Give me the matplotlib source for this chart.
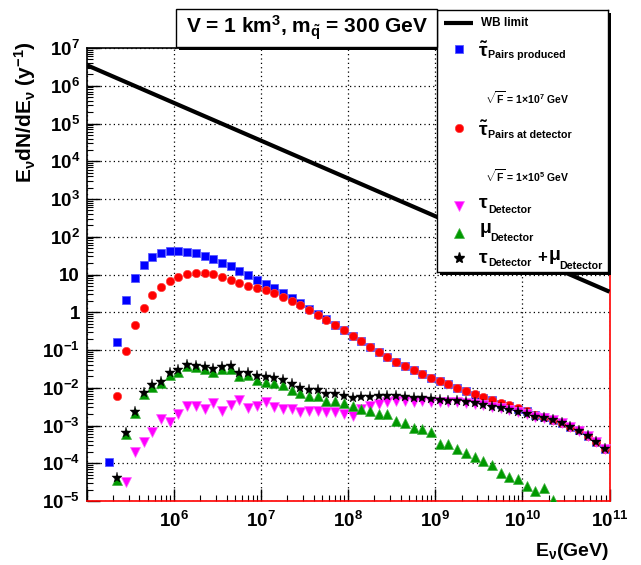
import numpy as np
import matplotlib
matplotlib.use('Agg')
import matplotlib.pyplot as plt
from matplotlib.patches import Rectangle
from matplotlib.ticker import LogLocator, FuncFormatter, NullFormatter

plt.rcParams['font.family'] = ['Liberation Sans', 'DejaVu Sans']
plt.rcParams['font.weight'] = 'bold'
plt.rcParams['mathtext.fontset'] = 'custom'
plt.rcParams['mathtext.rm'] = 'Liberation Sans:bold'
plt.rcParams['mathtext.it'] = 'Liberation Sans:bold'
plt.rcParams['mathtext.bf'] = 'Liberation Sans:bold'
plt.rcParams['mathtext.sf'] = 'Liberation Sans:bold'

# log10(E/GeV) bin centres
log_e = [5.25, 5.35, 5.45, 5.55, 5.65, 5.75, 5.85, 5.95, 6.05, 6.15,
         6.25, 6.35, 6.45, 6.55, 6.65, 6.75, 6.85, 6.95, 7.05, 7.15,
         7.25, 7.35, 7.45, 7.55, 7.65, 7.75, 7.85, 7.95, 8.05, 8.15,
         8.25, 8.35, 8.45, 8.55, 8.65, 8.75, 8.85, 8.95, 9.05, 9.15,
         9.25, 9.35, 9.45, 9.55, 9.65, 9.75, 9.85, 9.95, 10.05, 10.15,
         10.25, 10.35, 10.45, 10.55, 10.65, 10.75, 10.85, 10.95]

# Waxman-Bahcall bound
wb_energy = [1e5, 1e11]
wb_flux = [3.5e6, 3.5]

# stau pairs produced (sqrt F = 1e7 GeV), from bin 0
pairs_produced = [1.05e-4, 0.16, 2.06, 8.05, 18.2, 28.4, 37.7, 41.7, 42.5, 40.1,
                  36.2, 31.4, 25.6, 20.5, 16.3, 12.5, 9.8, 7.2, 5.7, 4.27,
                  3.21, 2.37, 1.71, 1.24, 0.895, 0.648, 0.459, 0.333, 0.236, 0.171,
                  0.123, 0.089, 0.0656, 0.0494, 0.0379, 0.0297, 0.0233, 0.0186, 0.0152, 0.0122,
                  0.0099, 0.0081, 0.0066, 0.0054, 0.0046, 0.0038, 0.0033, 0.0028, 0.0024, 0.00188,
                  0.00166, 0.00141, 0.00115, 0.00092, 0.00074, 0.00053, 0.000363, 0.000242]

# stau pairs reaching the detector, from bin 1
pairs_detector = [5.9e-3, 0.092, 0.449, 1.32, 2.80, 4.74, 6.84, 8.73, 10.3,
                  11.1, 10.9, 10.1, 8.6, 7.08, 6.02, 5.02, 4.36, 3.86, 3.28,
                  2.57, 2.02, 1.52, 1.14, 0.843, 0.622, 0.45, 0.33, 0.236, 0.170,
                  0.122, 0.089, 0.0655, 0.0493, 0.0378, 0.0297, 0.0233, 0.0186, 0.0152, 0.0122,
                  0.0099, 0.0081, 0.0070, 0.00573, 0.00487, 0.00405, 0.00344, 0.00293, 0.00239, 0.00188,
                  0.00166, 0.00141, 0.00115, 0.00092, 0.00074, 0.00053, 0.000363, 0.000242]

# taus at detector (sqrt F = 1e5 GeV), from bin 2
tau_detector = [3.1e-5, 1.95e-4, 3.65e-4, 6.9e-4, 1.52e-3, 1.24e-3, 2.02e-3, 3.35e-3,
                3.28e-3, 2.73e-3, 3.95e-3, 2.4e-3, 3.54e-3, 4.7e-3, 2.83e-3, 3.2e-3, 4.26e-3, 3.13e-3,
                2.67e-3, 2.78e-3, 2.22e-3, 2.46e-3, 2.36e-3, 2.31e-3, 2.22e-3, 2.05e-3, 1.84e-3, 2.8e-3,
                3.24e-3, 3.82e-3, 4.23e-3, 4.4e-3, 4.49e-3, 4.3e-3, 4.4e-3, 4.3e-3, 4.3e-3, 4.23e-3,
                4.15e-3, 3.96e-3, 3.7e-3, 3.4e-3, 3.0e-3, 2.85e-3, 2.55e-3, 2.27e-3, 2.0e-3, 1.7e-3,
                1.6e-3, 1.38e-3, 1.15e-3, 9.3e-4, 7.3e-4, 5.3e-4, 3.6e-4, 2.4e-4]

# muons at detector, from bin 1
mu_detector = [3.5e-5, 6.0e-4, 2.19e-3, 6.8e-3, 0.0107, 0.0131, 0.0222, 0.0266, 0.0376,
               0.0347, 0.0307, 0.0265, 0.031, 0.0323, 0.0199, 0.022, 0.0162, 0.0141, 0.0132,
               0.0119, 8.8e-3, 7.2e-3, 5.9e-3, 5.9e-3, 4.4e-3, 4.4e-3, 4.0e-3, 3.24e-3, 2.75e-3,
               2.44e-3, 2.03e-3, 1.99e-3, 1.35e-3, 1.15e-3, 8.8e-4, 8.1e-4, 6.6e-4, 3.33e-4, 3.2e-4,
               2.45e-4, 1.92e-4, 1.43e-4, 1.16e-4, 8.9e-5, 5.6e-5, 4.4e-5, 3.9e-5, 2.54e-5, 1.8e-5,
               2.2e-5, 1.05e-5]

# tau + mu at detector, from bin 1
tau_mu_detector = [4.0e-5, 6.45e-4, 2.32e-3, 7.3e-3, 0.0116, 0.0145, 0.025, 0.0295, 0.0408,
                   0.0385, 0.0347, 0.0305, 0.0345, 0.038, 0.0253, 0.0253, 0.0199, 0.019, 0.0183,
                   0.0162, 0.0127, 9.8e-3, 8.5e-3, 8.5e-3, 6.9e-3, 6.8e-3, 6.2e-3, 5.3e-3, 5.6e-3,
                   5.7e-3, 5.97e-3, 6.2e-3, 5.97e-3, 5.7e-3, 5.3e-3, 5.3e-3, 5.07e-3, 4.87e-3, 4.58e-3,
                   4.4e-3, 4.14e-3, 3.9e-3, 3.59e-3, 3.11e-3, 2.93e-3, 2.59e-3, 2.30e-3, 2.0e-3, 1.69e-3,
                   1.6e-3, 1.38e-3, 1.15e-3, 9.2e-4, 7.2e-4, 5.2e-4, 3.56e-4, 2.32e-4]

energy = 10 ** np.array(log_e)

W, H = 641, 565
fig = plt.figure(figsize=(W / 100, H / 100), dpi=100)


def fx(px):
    return px / W


def fy(py):
    return 1 - py / H


ax = fig.add_axes([fx(87), fy(501), fx(609.5) - fx(87), fy(48) - fy(501)])
ax.set_xscale('log')
ax.set_yscale('log')

ax.plot(wb_energy, wb_flux, color='black', lw=3, solid_capstyle='butt', zorder=3)
ax.plot(energy[0:], pairs_produced, 's', color='blue', ms=6, mec='#5a5aff', mew=0.6, zorder=4)
ax.plot(energy[1:], pairs_detector, 'o', color='red', ms=6, mec='#ff4040', mew=0.5, zorder=5)
ax.plot(energy[2:], tau_detector, 'v', color='magenta', ms=7, mec='#ff60ff', mew=0.5, zorder=6)
ax.plot(energy[1:1 + len(mu_detector)], mu_detector, '^', color='#009900', ms=7,
        mec='#40b040', mew=0.5, zorder=7)
ax.plot(energy[1:], tau_mu_detector, '*', color='black', ms=8, mec='black', mew=0.3, zorder=8)

ax.set_xlim(1e5, 1e11)
ax.set_ylim(1e-5, 1e7)

ax.xaxis.set_major_locator(LogLocator(base=10, numticks=20))
ax.yaxis.set_major_locator(LogLocator(base=10, numticks=20))
ax.xaxis.set_minor_locator(LogLocator(base=10, subs=np.arange(2, 10), numticks=20))
ax.yaxis.set_minor_locator(LogLocator(base=10, subs=np.arange(2, 10), numticks=20))
ax.xaxis.set_minor_formatter(NullFormatter())
ax.yaxis.set_minor_formatter(NullFormatter())


def y_fmt(v, pos):
    n = int(round(np.log10(v)))
    if n == 0:
        return '1'
    if n == 1:
        return '10'
    return r'10$^{%d}$' % n


def x_fmt(v, pos):
    n = int(round(np.log10(v)))
    if n <= 5:
        return ''
    return r'10$^{%d}$' % n


ax.yaxis.set_major_formatter(FuncFormatter(y_fmt))
ax.xaxis.set_major_formatter(FuncFormatter(x_fmt))

ax.tick_params(which='both', direction='in', top=False, right=False, labelsize=13.5)
ax.tick_params(which='major', length=9, width=1)
ax.tick_params(which='minor', length=4.5, width=0.8)
ax.tick_params(axis='x', pad=7)
ax.tick_params(axis='y', pad=5)

ax.grid(True, which='major', color='black', linestyle=(0, (1, 2.5)), lw=0.9)

for side in ['left', 'top']:
    ax.spines[side].set_color('black')
    ax.spines[side].set_linewidth(1.2)
for side in ['bottom', 'right']:
    ax.spines[side].set_color('red')
    ax.spines[side].set_linewidth(1.2)

fig.text(fx(25), fy(41), r'E$_{\nu}$dN/dE$_{\nu}$ (y$^{-1}$)', rotation=90,
         ha='center', va='top', fontsize=15)
fig.text(fx(609), fy(551), r'E$_{\nu}$(GeV)', ha='right', va='center', fontsize=14)

# title pave with shadow
fig.patches.append(Rectangle((fx(179), fy(50)), fx(440) - fx(179), fy(12) - fy(50),
                             transform=fig.transFigure, facecolor='black', edgecolor='none', zorder=9))
fig.patches.append(Rectangle((fx(176), fy(47)), fx(437) - fx(176), fy(9) - fy(47),
                             transform=fig.transFigure, facecolor='white', edgecolor='black',
                             lw=1, zorder=10))
fig.text(fx(307), fy(28), r'V = 1 km$^{3}$, m$_{\tilde{q}}$ = 300 GeV', ha='center', va='center',
         fontsize=15, zorder=11)

# legend box with shadow
fig.patches.append(Rectangle((fx(440), fy(275)), fx(611) - fx(440), fy(13) - fy(275),
                             transform=fig.transFigure, facecolor='black', edgecolor='none', zorder=9))
lax = fig.add_axes([fx(437), fy(272), fx(608) - fx(437), fy(10) - fy(272)])
lax.set_zorder(10)
lax.set_xlim(437, 608)
lax.set_ylim(272, 10)
lax.set_xticks([])
lax.set_yticks([])
for s in lax.spines.values():
    s.set_linewidth(1)

MAIN = 14
SUB = 7.7
mx = 459


def entry(pieces):
    # pieces: (x, baseline y, text, fontsize)
    for x, y, s, size in pieces:
        lax.text(x, y, s, ha='left', va='baseline', fontsize=size)


lax.plot([444, 473], [22.7, 22.7], color='black', lw=3, solid_capstyle='butt')
lax.text(481, 26, 'WB limit', va='baseline', fontsize=8.5)

lax.plot([mx], [49], 's', color='blue', ms=6, mec='#5a5aff', mew=0.6)
entry([(478, 57, r'$\tilde{\tau}$', MAIN), (488, 58, 'Pairs produced', SUB)])

lax.text(485, 104, r'$\sqrt{F}$ = 1$\times$10$^{7}$ GeV', va='baseline', fontsize=7.5)

lax.plot([mx], [128], 'o', color='red', ms=6, mec='#ff4040', mew=0.5)
entry([(478, 136, r'$\tilde{\tau}$', MAIN), (488, 138, 'Pairs at detector', SUB)])

lax.text(485, 182, r'$\sqrt{F}$ = 1$\times$10$^{5}$ GeV', va='baseline', fontsize=7.5)

lax.plot([mx], [206], 'v', color='magenta', ms=7, mec='#ff60ff', mew=0.5)
entry([(478, 208, r'$\tau$', MAIN), (488, 213, 'Detector', SUB)])

lax.plot([mx], [233], '^', color='#009900', ms=7, mec='#40b040', mew=0.5)
entry([(479, 233, r'$\mu$', MAIN), (490, 241, 'Detector', SUB)])

lax.plot([mx], [258], '*', color='black', ms=8)
entry([(478, 263, r'$\tau$', MAIN), (488, 266, 'Detector', SUB),
       (537, 262, '+', 12), (548, 260, r'$\mu$', MAIN), (559, 269, 'Detector', SUB)])

fig.savefig('out.png', dpi=100)
